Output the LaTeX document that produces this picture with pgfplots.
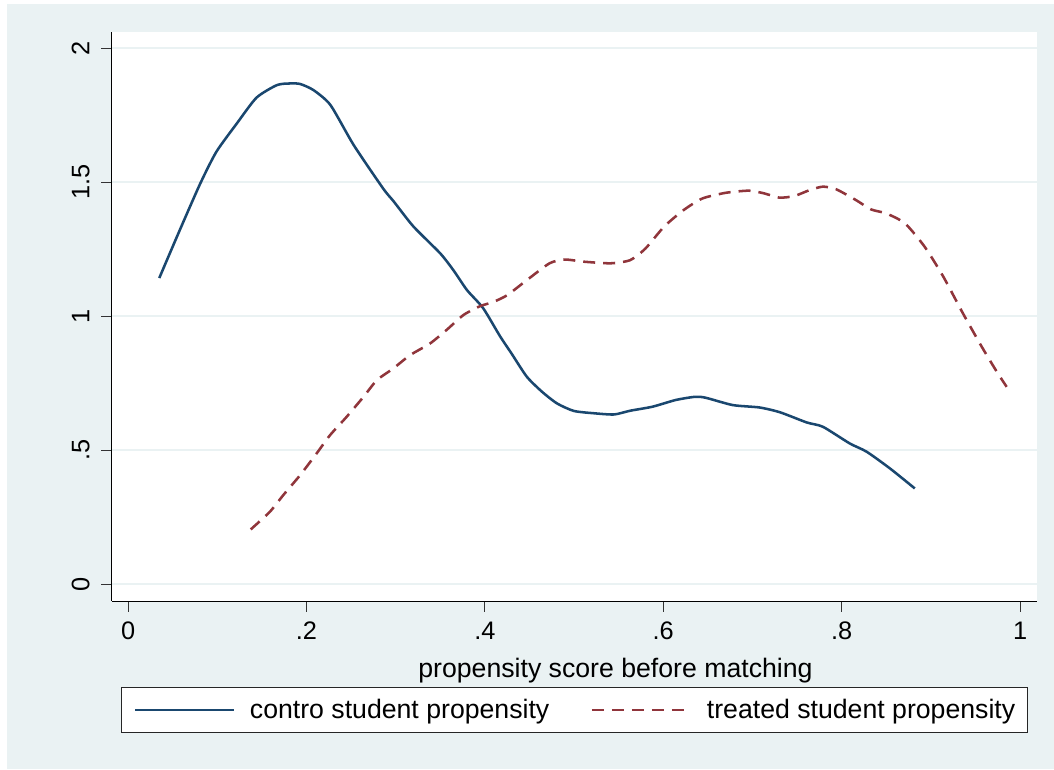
\documentclass[border=0pt]{standalone}
\usepackage{pgfplots}
\pgfplotsset{compat=1.18}
\usepackage{fontspec}
\setmainfont{Liberation Sans}
\definecolor{bgc}{HTML}{EAF2F3}
\definecolor{sblue}{HTML}{1A476F}
\definecolor{sred}{HTML}{90353B}
\begin{document}
\begin{tikzpicture}
\path[use as bounding box] (0,0) rectangle (790.5pt,576.75pt);
\fill[white] (0,0) rectangle (790.5pt,576.75pt);
\fill[bgc] (5.25pt,0pt) rectangle (790.5pt,573.75pt);
\begin{axis}[
  at={(84pt,126pt)}, anchor=south west, scale only axis,
  width=693.75pt, height=426.75pt,
  xmin=-0.018, xmax=1.019, ymin=-0.063, ymax=2.06,
  axis lines*=left,
  axis line style={black, line width=0.75pt},
  axis background/.style={fill=white},
  ymajorgrids, grid style={bgc, line width=1.5pt},
  tick align=outside, major tick length=8pt,
  tick style={line width=0.75pt, black!80},
  xtick={0,0.2,0.4,0.6,0.8,1}, xticklabels={0,.2,.4,.6,.8,1},
  ytick={0,0.5,1,1.5,2}, yticklabels={0,.5,1,1.5,2},
  ticklabel style={font=\fontsize{19}{22}\selectfont},
  xticklabel style={anchor=base, yshift=-21pt},
  yticklabel style={xshift=-9pt, rotate=90, anchor=base},
  xlabel={propensity score before matching},
  xlabel style={font=\fontsize{20}{24}\selectfont, at={(axis description cs:0.5443,-0.1353)}, anchor=base},
  legend columns=2,
  legend image code/.code={\draw[#1] (0pt,0pt) -- (74.25pt,0pt);},
  legend style={at={(axis description cs:0.5,-0.1511)}, anchor=north,
    draw=black!85, line width=0.6pt, fill=white,
    font=\fontsize{20}{24}\selectfont,
    inner xsep=9pt, inner ysep=9pt,
    nodes={inner sep=0pt},
    /tikz/column 1/.style={column sep=11pt},
    /tikz/column 2/.style={column sep=31pt},
    /tikz/column 3/.style={column sep=11pt},
  },
  clip=false,
]
\addplot[sblue, line width=1.9pt, line join=round, smooth, tension=0.4] coordinates {
(0.035,1.142) (0.058,1.321) (0.081,1.495) (0.099,1.613) (0.122,1.719)
(0.144,1.815) (0.167,1.862) (0.182,1.868) (0.193,1.866) (0.208,1.843)
(0.227,1.787) (0.253,1.638) (0.286,1.476) (0.298,1.427) (0.320,1.334)
(0.350,1.234) (0.365,1.170) (0.380,1.097) (0.398,1.030) (0.417,0.925)
(0.430,0.860) (0.447,0.774) (0.464,0.718) (0.481,0.674) (0.500,0.646)
(0.524,0.637) (0.545,0.633) (0.563,0.647) (0.588,0.662) (0.614,0.687)
(0.636,0.699) (0.648,0.695) (0.678,0.668) (0.708,0.659) (0.731,0.641)
(0.761,0.603) (0.779,0.587) (0.809,0.525) (0.828,0.494) (0.854,0.432)
(0.882,0.357)
};
\addlegendentry{contro student propensity}
\addplot[sred, line width=1.9pt, dash pattern=on 9pt off 6pt, smooth, tension=0.4] coordinates {
(0.1375,0.204) (0.159,0.270) (0.174,0.332) (0.193,0.407) (0.2115,0.488)
(0.2265,0.556) (0.245,0.624) (0.264,0.699) (0.279,0.761) (0.2975,0.805)
(0.316,0.854) (0.3386,0.898) (0.357,0.948) (0.376,1.004) (0.3946,1.037)
(0.4096,1.053) (0.425,1.078) (0.447,1.134) (0.4725,1.197) (0.4896,1.211)
(0.511,1.203) (0.541,1.197) (0.563,1.209) (0.580,1.252) (0.601,1.334)
(0.623,1.396) (0.644,1.439) (0.670,1.460) (0.696,1.468) (0.713,1.458)
(0.730,1.442) (0.747,1.448) (0.764,1.470) (0.779,1.483) (0.794,1.473)
(0.816,1.433) (0.833,1.398) (0.850,1.383) (0.871,1.346) (0.893,1.259)
(0.914,1.147) (0.936,1.010) (0.957,0.886) (0.974,0.792) (0.985,0.736)
};
\addlegendentry{treated student propensity}
\end{axis}
\end{tikzpicture}
\end{document}
